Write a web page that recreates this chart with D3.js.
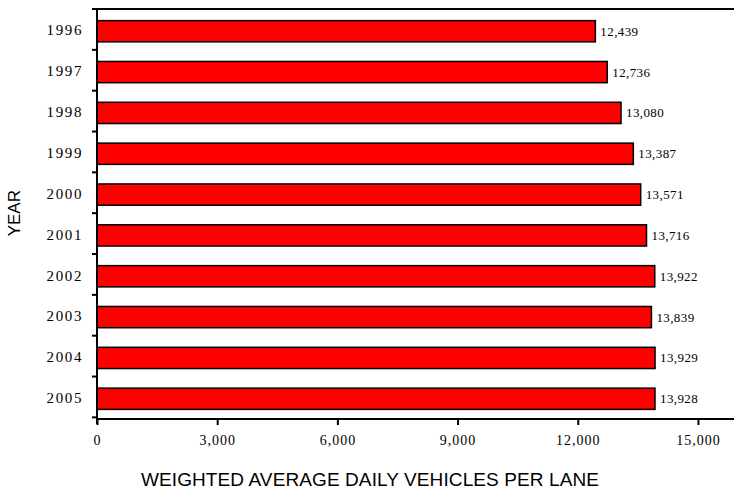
<!DOCTYPE html>
<html>
<head>
<meta charset="utf-8">
<script src="https://cdn.jsdelivr.net/npm/d3@7"></script>
<style>
  body { margin: 0; background: #fff; }
  svg { display: block; }
</style>
</head>
<body>
<div id="chart"></div>
<script>
const years = ['1996', '1997', '1998', '1999', '2000', '2001', '2002', '2003', '2004', '2005'];
const vehicles = [12439, 12736, 13080, 13387, 13571, 13716, 13922, 13839, 13929, 13928];
const xTicks = [0, 3000, 6000, 9000, 12000, 15000];

const width = 734, height = 491;
const margin = { top: 9, right: 0, bottom: 72, left: 97 };
const serif = '"Liberation Serif", "DejaVu Serif", serif';
const sans = '"Liberation Sans", Arial, sans-serif';

const svg = d3.select('#chart').append('svg')
  .attr('width', width)
  .attr('height', height);

const x = d3.scaleLinear()
  .domain([0, 15900])
  .range([margin.left, width - margin.right]);

const y = d3.scaleBand()
  .domain(years)
  .range([margin.top, height - margin.bottom])
  .paddingInner(0.48)
  .paddingOuter(0.26);

const fmt = d3.format(',');
const data = years.map((yr, i) => ({ yr, v: vehicles[i] }));

// top frame line
svg.append('line')
  .attr('x1', margin.left).attr('x2', width)
  .attr('y1', margin.top).attr('y2', margin.top)
  .attr('stroke', '#000').attr('stroke-width', 2);

// bars
svg.selectAll('rect.bar')
  .data(data)
  .join('rect')
  .attr('class', 'bar')
  .attr('x', x(0))
  .attr('y', d => y(d.yr) + 1)
  .attr('width', d => x(d.v) - x(0))
  .attr('height', y.bandwidth())
  .attr('fill', '#ff0000')
  .attr('stroke', '#000')
  .attr('stroke-width', 1.5);

// value labels
svg.selectAll('text.val')
  .data(data)
  .join('text')
  .attr('class', 'val')
  .attr('x', d => x(d.v) + 5)
  .attr('y', d => y(d.yr) + 1 + y.bandwidth() / 2)
  .attr('dy', '0.35em')
  .attr('font-family', serif)
  .attr('font-size', 13)
  .attr('letter-spacing', 0.4)
  .text(d => fmt(d.v));

// x axis
const xAxis = svg.append('g')
  .attr('transform', `translate(0,${height - margin.bottom})`)
  .call(d3.axisBottom(x).tickValues(xTicks).tickFormat(fmt).tickSize(6).tickPadding(10));
xAxis.select('.domain').attr('stroke-width', 2).attr('d', `M${margin.left},0H${width}`);
xAxis.selectAll('.tick line').attr('stroke-width', 2);
xAxis.selectAll('.tick text')
  .attr('font-family', serif)
  .attr('font-size', 14)
  .attr('letter-spacing', 1)
  .attr('fill', '#000');

// y axis: ticks at category boundaries
const step = y.step();
const boundaries = d3.range(years.length + 1).map(i => margin.top + i * step);
const yAxis = svg.append('g');
yAxis.append('line')
  .attr('x1', margin.left).attr('x2', margin.left)
  .attr('y1', margin.top).attr('y2', height - margin.bottom + 5)
  .attr('stroke', '#000').attr('stroke-width', 2);
yAxis.selectAll('line.tk')
  .data(boundaries)
  .join('line')
  .attr('class', 'tk')
  .attr('x1', margin.left - 5).attr('x2', margin.left)
  .attr('y1', d => d).attr('y2', d => d)
  .attr('stroke', '#000').attr('stroke-width', 2);
yAxis.selectAll('text.yl')
  .data(years)
  .join('text')
  .attr('class', 'yl')
  .attr('x', 83)
  .attr('y', d => y(d) + y.bandwidth() / 2)
  .attr('dy', '0.35em')
  .attr('text-anchor', 'end')
  .attr('font-family', serif)
  .attr('font-size', 15)
  .attr('letter-spacing', 1.6)
  .text(d => d);

// axis titles
svg.append('text')
  .attr('x', 370)
  .attr('y', 486)
  .attr('text-anchor', 'middle')
  .attr('font-family', sans)
  .attr('font-size', 19)
  .attr('letter-spacing', 0.1)
  .text('WEIGHTED AVERAGE DAILY VEHICLES PER LANE');

svg.append('text')
  .attr('transform', `translate(20,${margin.top + 5 * step}) rotate(-90)`)
  .attr('text-anchor', 'middle')
  .attr('font-family', sans)
  .attr('font-size', 17)
  .text('YEAR');
</script>
</body>
</html>
